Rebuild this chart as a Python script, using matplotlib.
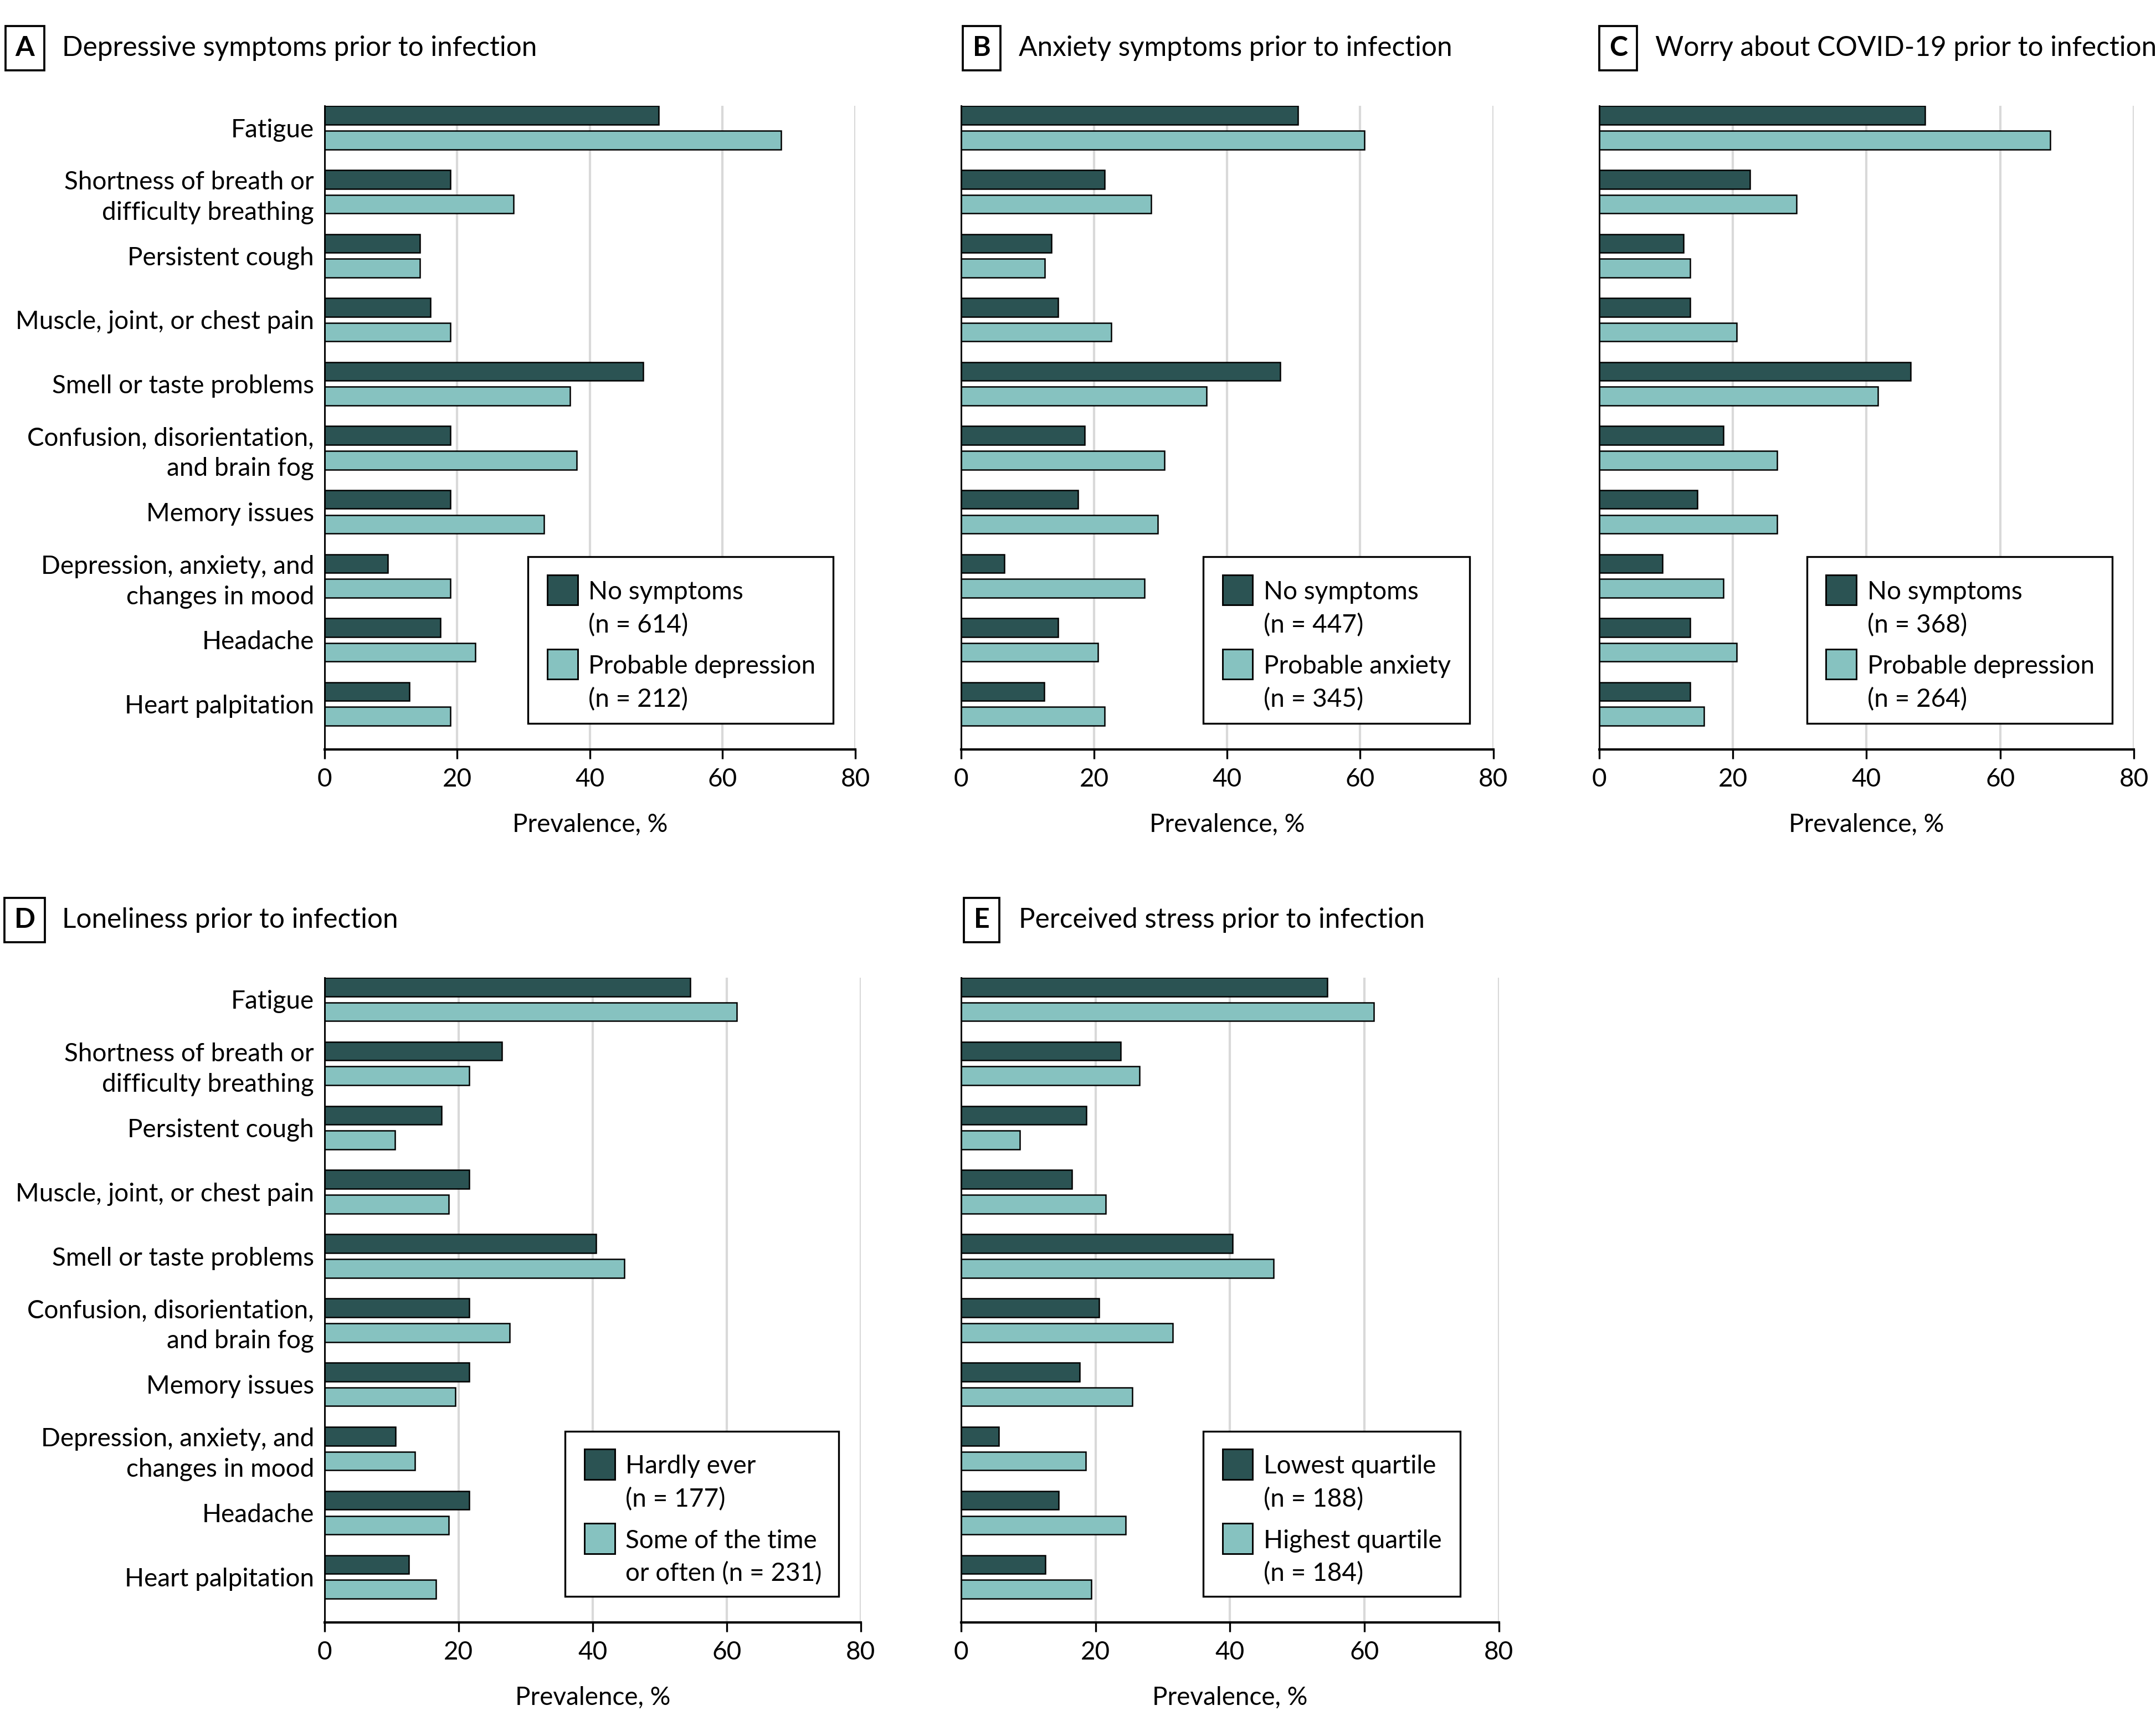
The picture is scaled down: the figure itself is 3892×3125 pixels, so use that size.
import matplotlib
matplotlib.use("Agg")
import matplotlib.pyplot as plt
from matplotlib.patches import Rectangle
import numpy as np

plt.rcParams['font.family'] = ['Lato', 'DejaVu Sans']

# Symptom categories (top to bottom)
symptoms = [
    'Fatigue',
    'Shortness of breath or\ndifficulty breathing',
    'Persistent cough',
    'Muscle, joint, or chest pain',
    'Smell or taste problems',
    'Confusion, disorientation,\nand brain fog',
    'Memory issues',
    'Depression, anxiety, and\nchanges in mood',
    'Headache',
    'Heart palpitation',
]

# Prevalence (%) per panel: first series (dark), second series (light)
a_low = [50.4, 19.0, 14.4, 16.0, 48.0, 19.0, 19.0, 9.5, 17.5, 12.8]
a_high = [68.8, 28.5, 14.4, 19.0, 37.0, 38.0, 33.1, 19.0, 22.7, 19.0]

b_low = [50.6, 21.6, 13.6, 14.6, 48.0, 18.6, 17.6, 6.5, 14.6, 12.5]
b_high = [60.6, 28.6, 12.6, 22.6, 36.9, 30.6, 29.6, 27.6, 20.6, 21.6]

c_low = [48.7, 22.6, 12.6, 13.6, 46.6, 18.6, 14.7, 9.5, 13.6, 13.6]
c_high = [67.5, 29.5, 13.6, 20.6, 41.7, 26.6, 26.6, 18.6, 20.6, 15.7]

d_low = [54.6, 26.5, 17.5, 21.6, 40.5, 21.6, 21.6, 10.6, 21.6, 12.6]
d_high = [61.5, 21.6, 10.5, 18.5, 44.7, 27.6, 19.5, 13.5, 18.5, 16.6]

e_low = [54.5, 23.7, 18.6, 16.5, 40.4, 20.5, 17.6, 5.6, 14.5, 12.5]
e_high = [61.4, 26.5, 8.7, 21.5, 46.5, 31.5, 25.5, 18.5, 24.5, 19.4]

titles = [
    'Depressive symptoms prior to infection',
    'Anxiety symptoms prior to infection',
    'Worry about COVID-19 prior to infection',
    'Loneliness prior to infection',
    'Perceived stress prior to infection',
]
panel_letters = ['A', 'B', 'C', 'D', 'E']
legend_labels = [
    ('No symptoms\n(n = 614)', 'Probable depression\n(n = 212)'),
    ('No symptoms\n(n = 447)', 'Probable anxiety\n(n = 345)'),
    ('No symptoms\n(n = 368)', 'Probable depression\n(n = 264)'),
    ('Hardly ever\n(n = 177)', 'Some of the time\nor often (n = 231)'),
    ('Lowest quartile\n(n = 188)', 'Highest quartile\n(n = 184)'),
]
x_ticks = [0, 20, 40, 60, 80]

DARK = '#2b5353'
LIGHT = '#86c2c0'
GRID = '#d9d9d9'
FS = 11

# layout is worked out on a 1568 x 1259 grid
GW, GH = 1568.0, 1259.0


def gx(x):
    return x / GW


def gy(y):
    return 1 - y / GH


def draw_legend(fig, frame, labels):
    # frame = (left, top, right, bottom) in layout grid units
    fl, ft, fr, fb = frame
    fig.add_artist(Rectangle((gx(fl), gy(fb)), gx(fr) - gx(fl), gy(ft) - gy(fb),
                             transform=fig.transFigure, fc='white', ec='black',
                             lw=0.8, zorder=5))
    for k, (lab, col) in enumerate(zip(labels, [DARK, LIGHT])):
        top = ft + 13 + k * 54
        fig.add_artist(Rectangle((gx(fl + 14), gy(top + 22)), gx(22), 22 / GH,
                                 transform=fig.transFigure, fc=col, ec='black',
                                 lw=0.7, zorder=6))
        for j, line in enumerate(lab.split('\n')):
            fig.text(gx(fl + 44), gy(top + 11 + j * 24), line, fontsize=FS,
                     ha='left', va='center_baseline', zorder=7)


def draw_panel(fig, rect, low, high, show_labels):
    ax = fig.add_axes(rect)
    y = np.arange(len(symptoms))
    h = 0.29
    off = 0.193
    ax.barh(y - off, low, h, color=DARK, edgecolor='black', linewidth=0.6,
            zorder=3)
    ax.barh(y + off, high, h, color=LIGHT, edgecolor='black', linewidth=0.6,
            zorder=3)
    ax.set_ylim(9.71, -0.34)
    ax.set_xlim(0, 80)
    ax.set_yticks(y)
    if show_labels:
        ax.set_yticklabels(symptoms, fontsize=FS, linespacing=1.38)
    else:
        ax.set_yticklabels([])
    ax.tick_params(axis='y', length=0, pad=4.5)
    ax.set_xticks(x_ticks)
    ax.tick_params(axis='x', length=4, width=0.8, direction='out',
                   labelsize=FS, pad=4)
    for v in x_ticks[1:]:
        ax.axvline(v, color=GRID, linewidth=1.0, zorder=1)
    for s in ['top', 'right']:
        ax.spines[s].set_visible(False)
    ax.spines['left'].set_linewidth(0.7)
    ax.spines['bottom'].set_linewidth(1.0)
    ax.spines['left'].set_zorder(4)
    ax.set_xlabel('Prevalence, %', fontsize=FS, labelpad=9.5)
    return ax


W, H = 3892, 3125
fig = plt.figure(figsize=(W / 300, H / 300), dpi=300)

rects = [
    [0.1505, 0.5671, 0.2462, 0.3717],
    [0.4458, 0.5671, 0.2468, 0.3717],
    [0.7417, 0.5671, 0.2481, 0.3717],
    [0.1505, 0.0627, 0.2487, 0.3726],
    [0.4458, 0.0627, 0.2494, 0.3726],
]
series = [(a_low, a_high), (b_low, b_high), (c_low, c_high),
          (d_low, d_high), (e_low, e_high)]
legend_frames = [
    (384, 405, 606, 526),
    (875, 405, 1069, 526),
    (1314, 405, 1536, 526),
    (411, 1041, 610, 1161),
    (875, 1041, 1062, 1161),
]
title_pos = [(18, 35), (714, 35), (1177, 35), (18, 669), (714, 669)]

for i in range(5):
    draw_panel(fig, rects[i], series[i][0], series[i][1], i in (0, 3))
    draw_legend(fig, legend_frames[i], legend_labels[i])
    bx, by = title_pos[i]
    fig.text(gx(bx), gy(by), panel_letters[i], fontsize=12, fontweight='bold',
             ha='center', va='center',
             bbox=dict(boxstyle='square,pad=0.35', fc='white', ec='black', lw=0.9))
    fig.text(gx(bx + 27), gy(by), titles[i], fontsize=11.9, ha='left',
             va='center')

fig.savefig('out.png', dpi=300)
